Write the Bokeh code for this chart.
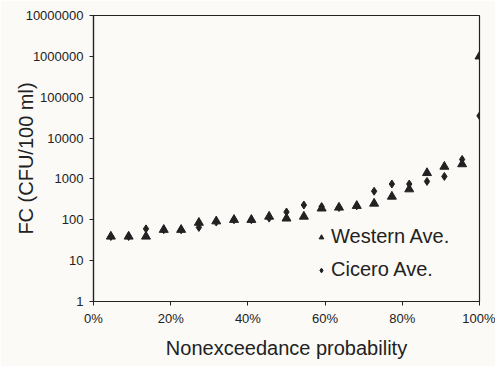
from bokeh.plotting import figure
from bokeh.models import (Range1d, FixedTicker, PrintfTickFormatter, Legend, LegendItem)
from bokeh.embed import file_html
from bokeh.resources import INLINE

# Nonexceedance probability (%)
prob = [4.5, 9.1, 13.6, 18.2, 22.7, 27.3, 31.8, 36.4, 40.9, 45.5, 50.0,
        54.5, 59.1, 63.6, 68.2, 72.7, 77.3, 81.8, 86.4, 90.9, 95.5, 100.0]
# FC (CFU/100 ml)
western = [39, 39, 39, 57, 57, 85, 92, 100, 100, 120, 108,
           120, 190, 200, 220, 250, 370, 560, 1400, 2000, 2300, 1000000]
cicero = [39, 39, 60, 57, 57, 65, 88, 100, 100, 110, 155,
          230, 210, 200, 220, 500, 750, 750, 870, 1150, 3000, 35000]
series_names = ["Western Ave.", "Cicero Ave."]
x_ticks = [0, 20, 40, 60, 80, 100]
y_ticks = [1, 10, 100, 1000, 10000, 100000, 1000000, 10000000]

FONT = "Liberation Sans"
INK = "#222222"
BG = "#fbfaf6"

p = figure(width=495, height=366, y_axis_type="log",
           x_range=Range1d(0, 100), y_range=Range1d(1, 10000000),
           output_backend="svg", toolbar_location=None,
           min_border_left=93, min_border_right=16, min_border_top=15, min_border_bottom=65)
p.background_fill_color = BG
p.border_fill_color = BG
p.outline_line_color = INK
p.outline_line_width = 1.2
p.xgrid.visible = False
p.ygrid.visible = False

r_w = p.scatter(prob, western, marker="triangle", size=9, color=INK)
r_c = p.scatter(prob, cicero, marker="diamond", size=8, color=INK)

for ax in (p.xaxis[0], p.yaxis[0]):
    ax.axis_line_color = INK
    ax.axis_line_width = 1.2
    ax.major_tick_line_color = INK
    ax.major_tick_out = 4
    ax.major_tick_in = 0
    ax.minor_tick_line_color = None
    ax.major_label_text_font = FONT
    ax.major_label_text_font_size = "13px"
    ax.major_label_text_color = INK
    ax.axis_label_text_font = FONT
    ax.axis_label_text_font_size = "20px"
    ax.axis_label_text_font_style = "normal"
    ax.axis_label_text_color = INK

p.xaxis.ticker = FixedTicker(ticks=x_ticks)
p.xaxis.formatter = PrintfTickFormatter(format="%d%%")
p.xaxis.major_label_standoff = 5
p.xaxis.axis_label = "Nonexceedance probability"
p.xaxis.axis_label_standoff = 8

p.yaxis.ticker = FixedTicker(ticks=y_ticks)
p.yaxis.formatter = PrintfTickFormatter(format="%d")
p.yaxis.major_label_standoff = 6
p.yaxis.axis_label = "FC (CFU/100 ml)"
p.yaxis.axis_label_standoff = -14

legend = Legend(items=[LegendItem(label=series_names[0], renderers=[r_w]),
                       LegendItem(label=series_names[1], renderers=[r_c])],
                location=(222, 20), orientation="vertical",
                label_text_font=FONT, label_text_font_size="20px", label_text_color=INK,
                glyph_width=12, glyph_height=20, label_standoff=4, spacing=10,
                padding=0, margin=0, border_line_color=None, background_fill_alpha=0)
p.add_layout(legend)

open("out.html", "w").write(file_html(p, INLINE))
